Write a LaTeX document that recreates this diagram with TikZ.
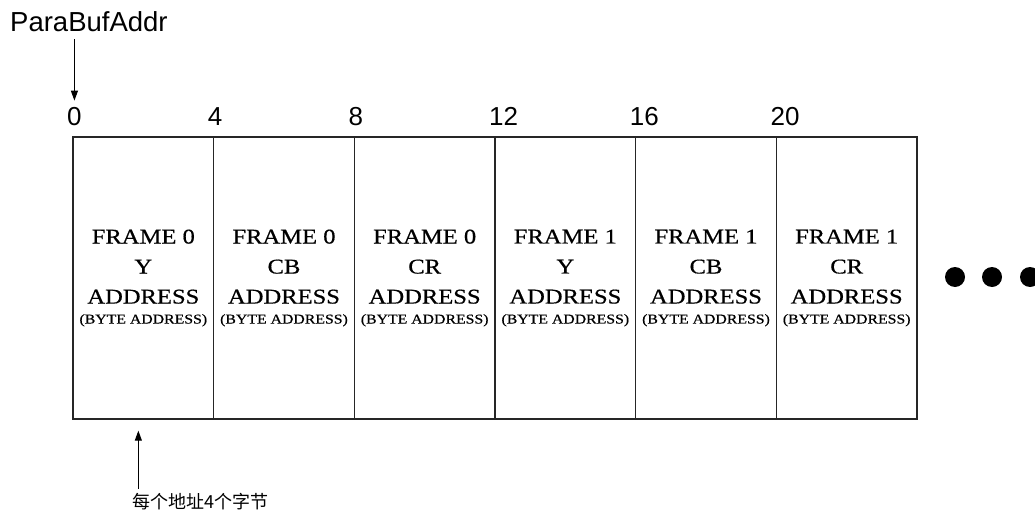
\documentclass[tikz,border=0pt]{standalone}
\usepackage{fontspec}
\setmainfont{Liberation Serif}
\newfontfamily\cellfont[FakeStretch=1.17,FakeBold=0.6]{Liberation Serif}
\newfontfamily\labelfont{Liberation Sans}
\newfontfamily\cjkfont{Noto Sans CJK SC}
\usetikzlibrary{arrows.meta,positioning,calc}

\begin{document}
\begin{tikzpicture}[
  x=1pt, y=-1pt,
  cell/.style={draw=black!85, line width=1.3pt, minimum width=140.67pt, minimum height=282pt,
    inner sep=0pt, align=center, font=\cellfont\fontsize{21}{30}\selectfont},
  offset/.style={font=\labelfont\fontsize{26}{30}\selectfont, anchor=base west, inner sep=0pt},
  dot/.style={circle, fill, inner sep=0pt, minimum size=20pt},
  arrow/.style={-{Triangle[length=10pt,width=7pt]}, line width=1pt}
]
\useasboundingbox (0,0) rectangle (1035,513);
\clip (0,0) rectangle (1035,513);

% buffer cells
\foreach \i/\frm/\comp in {0/0/Y,1/0/CB,2/0/CR,3/1/Y,4/1/CB,5/1/CR}{
  \node[cell] (cell\i) at ({73+140.67*(\i+0.5)},278)
    {FRAME \frm\\\comp\\ADDRESS\\[-10pt]{\fontsize{13.5}{14}\selectfont (BYTE ADDRESS)}};
}

% byte offsets
\foreach \i/\off in {0/0,1/4,2/8,3/12,4/16,5/20}{
  \node[offset] (off\i) at ({73+140.67*\i-6},126) {\off};
}

% more entries
\foreach \i/\x in {1/955,2/992,3/1030}{
  \node[dot] (more\i) at (\x,277) {};
}

\node[font=\labelfont\fontsize{27.5}{30}\selectfont, anchor=base west, inner sep=0pt] (parabuf) at (10,32) {ParaBufAddr};
\node[font=\cjkfont\fontsize{18}{20}\selectfont, anchor=base west, inner sep=0pt] (note) at (132,508) {每个地址4个字节};
\coordinate (bytestep) at ($(cell0.south west)+(66,0)$);

\draw[arrow, shorten <=7pt, shorten >=7pt] (parabuf.south -| off0.north) -- (off0.north);
\draw[arrow, shorten <=4pt, shorten >=11pt] (note.north -| bytestep) -- (bytestep);
\end{tikzpicture}
\end{document}
